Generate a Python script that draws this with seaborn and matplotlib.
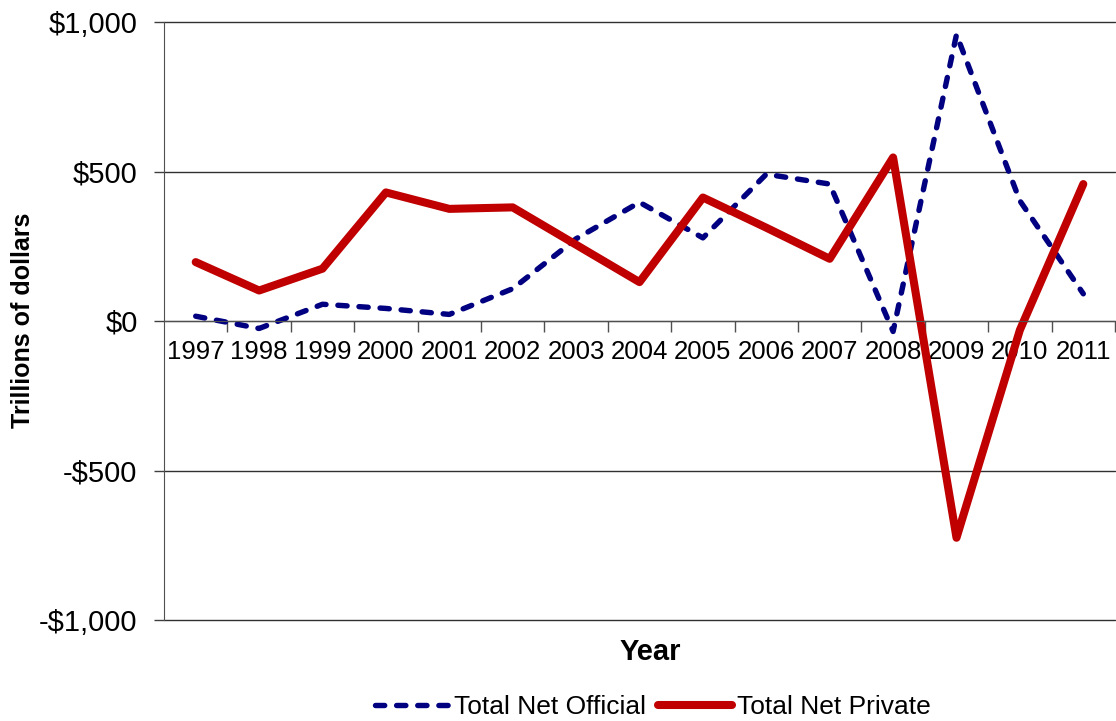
import matplotlib
matplotlib.use("Agg")
import matplotlib.pyplot as plt
import seaborn as sns
import pandas as pd
from matplotlib.ticker import FixedLocator, FuncFormatter

years = ["1997", "1998", "1999", "2000", "2001", "2002", "2003", "2004",
         "2005", "2006", "2007", "2008", "2009", "2010", "2011"]
official = [16, -25, 56, 42, 22, 108, 275, 397, 278, 491, 458, -35, 958, 402, 91]
private = [197, 102, 175, 430, 375, 380, 255, 130, 413, 312, 208, 547, -725, -30, 458]

sns.set_style("white")
plt.rcParams["font.family"] = ["Liberation Sans", "DejaVu Sans"]
plt.rcParams["text.color"] = "black"
plt.rcParams["axes.labelcolor"] = "black"
plt.rcParams["xtick.color"] = "black"
plt.rcParams["ytick.color"] = "black"

pos = list(range(len(years)))
df_off = pd.DataFrame({"pos": pos, "value": official})
df_pri = pd.DataFrame({"pos": pos, "value": private})

fig = plt.figure(figsize=(11.16, 7.21), dpi=100)
ax = fig.add_axes([164 / 1116, 1 - 620 / 721, (1115 - 164) / 1116, (620 - 22) / 721])

sns.lineplot(data=df_off, x="pos", y="value", ax=ax, color="#000080",
             linewidth=3.9, linestyle=(0, (1.7, 2.2)), dash_capstyle="round",
             dash_joinstyle="round", label="Total Net Official")
sns.lineplot(data=df_pri, x="pos", y="value", ax=ax, color="#C00000",
             linewidth=5.8, label="Total Net Private", solid_capstyle="round",
             solid_joinstyle="round")

ax.set_xlim(-0.5, len(years) - 0.5)
ax.set_ylim(-1000, 1000)

# y axis
ax.set_yticks([-1000, -500, 0, 500, 1000])
ax.yaxis.set_major_formatter(FuncFormatter(
    lambda v, p: ("-$" if v < 0 else "$") + f"{abs(int(v)):,}"))
ax.tick_params(axis="y", direction="out", length=7, width=1, color="#404040",
               labelsize=21, labelcolor="black", pad=12, left=True)
ax.yaxis.grid(True, color="#303030", linewidth=1)
for gl in ax.get_ygridlines():
    gl.set_clip_on(False)
ax.set_axisbelow(True)

# x axis at zero
ax.spines["bottom"].set_position(("data", 0))
ax.spines["bottom"].set_color("#505050")
ax.spines["left"].set_color("#505050")
ax.spines["top"].set_visible(False)
ax.spines["right"].set_visible(False)
ax.xaxis.set_major_locator(FixedLocator([p + 0.5 for p in pos]))
ax.xaxis.set_major_formatter(FuncFormatter(lambda v, p: ""))
ax.set_xticks(pos, labels=years, minor=True)
ax.tick_params(axis="x", which="major", direction="out", length=8, width=1,
               color="#505050", bottom=True)
ax.tick_params(axis="x", which="minor", length=0, labelsize=18.5,
               labelcolor="black", pad=14)

ax.set_xlabel("")
ax.set_ylabel("")
fig.text(23 / 1116, 1 - 320 / 721, "Trillions of dollars", rotation=90,
         ha="center", va="center", fontsize=18, fontweight="bold")

fig.text(650 / 1116, 1 - 652 / 721, "Year", ha="center", va="center",
         fontsize=21, fontweight="bold")

ax.get_legend().remove()
handles, labels = ax.get_legend_handles_labels()
fig.legend(handles, labels, loc="center", bbox_to_anchor=(653 / 1116, 1 - 707 / 721),
           ncol=2, frameon=False, fontsize=19, handlelength=2.8,
           handletextpad=0.2, columnspacing=0.45, borderpad=0)

fig.savefig("out.png", dpi=100)
